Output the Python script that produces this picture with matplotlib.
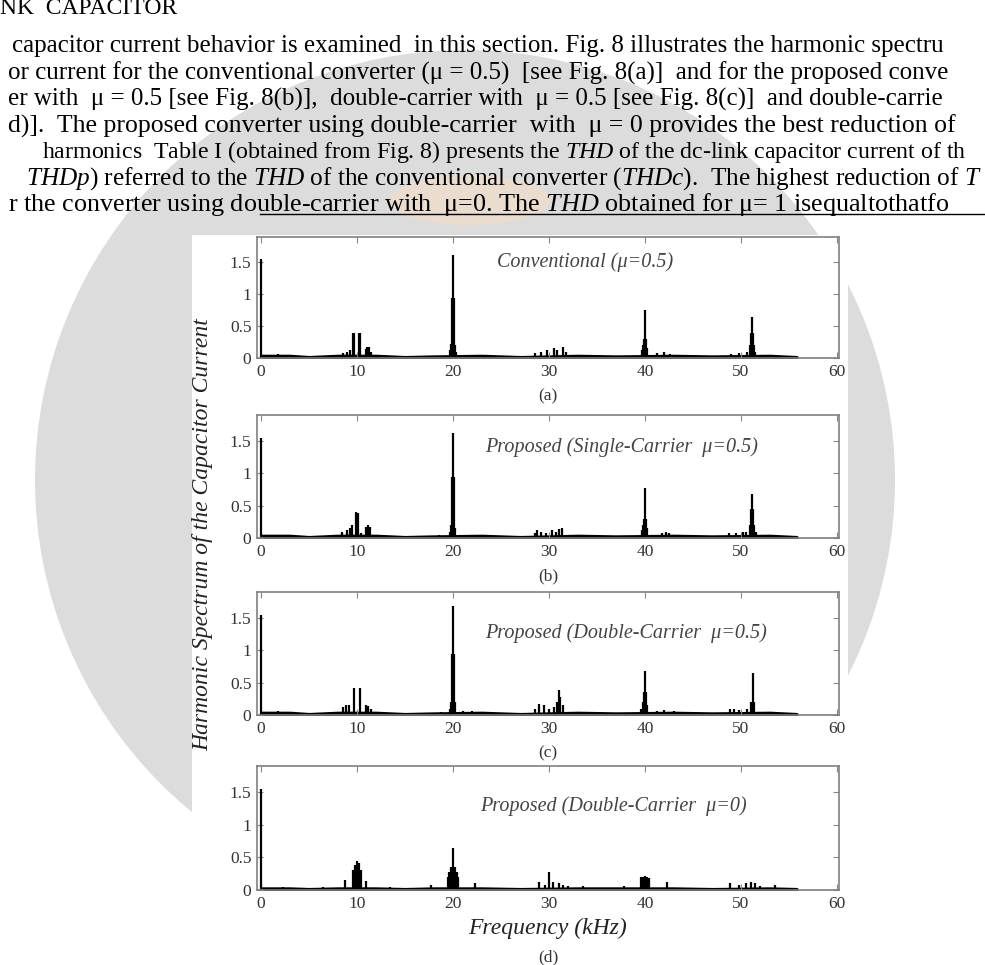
import numpy as np
import matplotlib.pyplot as plt
from matplotlib.patches import Wedge, Rectangle, Ellipse
from matplotlib.lines import Line2D

plt.rcParams['font.family'] = ['Liberation Serif', 'DejaVu Serif']
plt.rcParams['mathtext.fontset'] = 'custom'
plt.rcParams['mathtext.rm'] = 'Liberation Serif'
plt.rcParams['mathtext.it'] = 'Liberation Serif:italic'

W, H = 985, 965

# ---- data (kHz, amplitude) ----
a_freq = [0.0, 1.0, 1.8, 2.3, 8.6, 9.0, 9.3, 9.6, 9.7, 10.2, 10.3, 10.9, 11.1, 11.3, 11.5,
          18.0, 19.7, 19.8, 19.9, 20.0, 20.1, 20.2, 20.3, 21.5, 22.2, 28.5, 29.2, 29.8,
          30.5, 30.8, 31.5, 31.8, 39.7, 39.8, 39.9, 40.0, 40.1, 40.2, 41.3, 42.0, 42.6,
          49.0, 49.8, 50.6, 50.9, 51.0, 51.1, 51.2, 51.3, 51.5, 53.0]
a_amp = [1.55, 0.05, 0.06, 0.05, 0.08, 0.1, 0.12, 0.4, 0.4, 0.4, 0.4, 0.14, 0.18, 0.17, 0.1,
         0.03, 0.12, 0.22, 0.95, 1.62, 0.95, 0.2, 0.1, 0.05, 0.05, 0.08, 0.1, 0.12,
         0.15, 0.12, 0.18, 0.1, 0.12, 0.2, 0.3, 0.75, 0.3, 0.15, 0.08, 0.09, 0.06,
         0.07, 0.08, 0.1, 0.2, 0.4, 0.65, 0.4, 0.2, 0.1, 0.04]

b_freq = [0.0, 1.2, 2.0, 2.6, 8.4, 9.0, 9.3, 9.5, 9.9, 10.1, 10.4, 11.0, 11.2, 11.4, 17.5,
          18.5, 19.7, 19.8, 19.9, 20.0, 20.1, 20.2, 21.5, 22.0, 28.5, 28.8, 29.2, 29.7,
          30.3, 30.7, 31.0, 31.4, 39.7, 39.8, 39.9, 40.0, 40.1, 40.2, 41.8, 42.2, 42.5,
          48.7, 49.5, 50.2, 50.5, 50.9, 51.0, 51.1, 51.2, 51.3, 51.6, 53.5]
b_amp = [1.55, 0.04, 0.05, 0.04, 0.1, 0.12, 0.15, 0.2, 0.4, 0.38, 0.08, 0.17, 0.2, 0.17, 0.03,
         0.04, 0.1, 0.2, 0.95, 1.62, 0.95, 0.15, 0.05, 0.05, 0.08, 0.13, 0.1, 0.08,
         0.12, 0.1, 0.14, 0.15, 0.12, 0.2, 0.3, 0.77, 0.3, 0.15, 0.08, 0.1, 0.08,
         0.08, 0.07, 0.09, 0.1, 0.2, 0.45, 0.68, 0.45, 0.2, 0.1, 0.03]

c_freq = [0.0, 1.0, 1.8, 2.5, 8.6, 8.9, 9.2, 9.7, 10.3, 11.0, 11.2, 11.5, 17.5, 18.8,
          19.7, 19.8, 19.9, 20.0, 20.1, 20.2, 21.0, 22.0, 23.0, 28.5, 29.0, 29.5, 30.0,
          30.5, 30.8, 31.0, 31.2, 31.5, 39.6, 39.8, 39.9, 40.0, 40.1, 40.2, 41.2, 42.0,
          43.0, 48.8, 49.3, 49.8, 50.6, 51.0, 51.2, 51.4, 53.5]
c_amp = [1.55, 0.05, 0.06, 0.04, 0.12, 0.15, 0.15, 0.42, 0.42, 0.15, 0.14, 0.1, 0.03, 0.04,
         0.1, 0.2, 0.95, 1.68, 0.95, 0.2, 0.06, 0.06, 0.05, 0.1, 0.17, 0.15, 0.1,
         0.12, 0.2, 0.38, 0.28, 0.15, 0.1, 0.2, 0.35, 0.68, 0.35, 0.15, 0.06, 0.07,
         0.06, 0.1, 0.1, 0.08, 0.1, 0.2, 0.65, 0.2, 0.03]

d_freq = [0.0, 2.3, 6.5, 8.8, 9.6, 9.8, 10.0, 10.2, 10.4, 11.0, 13.5, 17.7, 19.5, 19.6,
          19.8, 20.0, 20.2, 20.4, 20.5, 22.3, 29.0, 29.6, 30.0, 30.4, 31.0, 31.5, 32.0,
          33.5, 37.8, 39.6, 39.8, 40.0, 40.2, 40.4, 42.3, 48.8, 49.8, 50.5, 51.0, 51.5,
          52.0, 53.5]
d_amp = [1.55, 0.05, 0.05, 0.15, 0.3, 0.38, 0.45, 0.42, 0.3, 0.14, 0.05, 0.08, 0.2, 0.28,
         0.35, 0.65, 0.35, 0.28, 0.2, 0.1, 0.12, 0.08, 0.28, 0.12, 0.1, 0.08, 0.06,
         0.06, 0.06, 0.2, 0.2, 0.22, 0.2, 0.18, 0.12, 0.1, 0.08, 0.1, 0.13, 0.1,
         0.06, 0.07]

# low-level spectrum floor
floor_freq = [0, 3, 5, 8, 12, 15, 18, 23, 27, 33, 37, 43, 47, 53, 55.8]
floor_a = [0.04, 0.04, 0.02, 0.04, 0.04, 0.02, 0.03, 0.04, 0.02, 0.04, 0.03, 0.04, 0.03, 0.04, 0.02]
floor_b = [0.04, 0.04, 0.02, 0.04, 0.04, 0.02, 0.03, 0.04, 0.02, 0.04, 0.03, 0.04, 0.03, 0.04, 0.02]
floor_c = [0.04, 0.04, 0.02, 0.04, 0.04, 0.02, 0.03, 0.04, 0.02, 0.04, 0.03, 0.04, 0.03, 0.04, 0.02]
floor_d = [0.03, 0.03, 0.02, 0.03, 0.03, 0.02, 0.03, 0.03, 0.02, 0.03, 0.03, 0.03, 0.02, 0.03, 0.02]

titles = ['Conventional (μ=0.5)', 'Proposed (Single-Carrier  μ=0.5)',
          'Proposed (Double-Carrier  μ=0.5)', 'Proposed (Double-Carrier  μ=0)']
title_x = [33.8, 37.6, 38.0, 36.7]
title_y = [1.5, 1.4, 1.26, 1.28]
captions = ['(a)', '(b)', '(c)', '(d)']
xticks = [0, 10, 20, 30, 40, 50, 60]
yticks = [0, 0.5, 1, 1.5]
ytick_labels = ['0', '0.5', '1', '1.5']

# paragraph lines above the figure (x px, y px, font size, visible text)
page_lines = [
    (0, 9, 17, 'NK  CAPACITOR'),
    (12, 46, 18, 'capacitor current behavior is examined  in this section. Fig. 8 illustrates the harmonic spectru'),
    (8, 73, 18, 'or current for the conventional converter (μ = 0.5)  [see Fig. 8(a)]  and for the proposed conve'),
    (8, 99, 18, 'er with  μ = 0.5 [see Fig. 8(b)],  double-carrier with  μ = 0.5 [see Fig. 8(c)]  and double-carrie'),
    (8, 126, 18.5, 'd)].  The proposed converter using double-carrier  with  μ = 0 provides the best reduction of'),
    (42, 152, 17.2, r'harmonics  Table I (obtained from Fig. 8) presents the $\mathit{THD}$ of the dc-link capacitor current of th'),
    (26, 179, 18.2, r'$\mathit{THDp}$) referred to the $\mathit{THD}$ of the conventional converter ($\mathit{THDc}$).  The highest reduction of $\mathit{T}$'),
    (8, 205, 18.8, r'r the converter using double-carrier with  μ=0. The $\mathit{THD}$ obtained for μ= 1 isequaltothatfo'),
]


def fx(x):
    return x / W


def fy(y):
    return 1 - y / H


fig = plt.figure(figsize=(9.85, 9.65), dpi=100)

# watermark behind the page, then the pasted white figure area
bg = fig.add_axes([0, 0, 1, 1])
bg.set_xlim(0, W)
bg.set_ylim(H, 0)
bg.axis('off')
bg.add_patch(Wedge((465, 480), 430, 0, 360, width=230, color='#dcdcdc', lw=0))
bg.add_patch(Ellipse((470, 200), 160, 50, color='#f4dcc6', alpha=0.6, lw=0))
bg.add_patch(Rectangle((192, 235), 656, 740, color='white', lw=0))

for x, y, fs, s in page_lines:
    fig.text(fx(x), fy(y), s, fontsize=fs, ha='left', va='center', color='black')
fig.add_artist(Line2D([fx(260), fx(985)], [fy(214), fy(214)], color='black', lw=1.0))

# panel frames in pixels: (top, bottom)
boxes = [(237, 358), (415, 538), (592, 715), (766, 890)]
freqs = [a_freq, b_freq, c_freq, d_freq]
amps = [a_amp, b_amp, c_amp, d_amp]
floors = [floor_a, floor_b, floor_c, floor_d]

for i, (top, bot) in enumerate(boxes):
    ax = fig.add_axes([fx(257), fy(bot), (839 - 257) / W, (bot - top) / H])
    ax.fill_between(floor_freq, 0, floors[i], color='black', lw=1.8)
    ax.vlines(freqs[i], 0, amps[i], color='black', lw=1.6)
    ax.set_xlim(-0.4, 60.2)
    ax.set_ylim(0, 1.9)
    ax.set_xticks(xticks)
    ax.set_yticks(yticks)
    ax.set_yticklabels(ytick_labels)
    ax.tick_params(direction='in', top=True, right=True, length=4, width=0.8,
                   color='#888888', labelsize=12.5, labelcolor='#333333', pad=4)
    for sp in ax.spines.values():
        sp.set_color('#808080')
        sp.set_linewidth(1.2)
    ax.text(title_x[i], title_y[i], titles[i], ha='center', va='center',
            style='italic', fontsize=14.5, color='#444444')
    cap_y = bot + 38 if i < 3 else bot + 67
    fig.text(fx(548), fy(cap_y), captions[i], ha='center', va='center',
             fontsize=12.5, color='#333333')

fig.text(fx(548), fy(928), 'Frequency (kHz)', ha='center', va='center',
         style='italic', fontsize=17, color='#222222')
fig.text(fx(203), fy(535), 'Harmonic Spectrum of the Capacitor Current', rotation=90,
         ha='center', va='center', style='italic', fontsize=17, color='#222222')

fig.savefig('out.png', dpi=100)
